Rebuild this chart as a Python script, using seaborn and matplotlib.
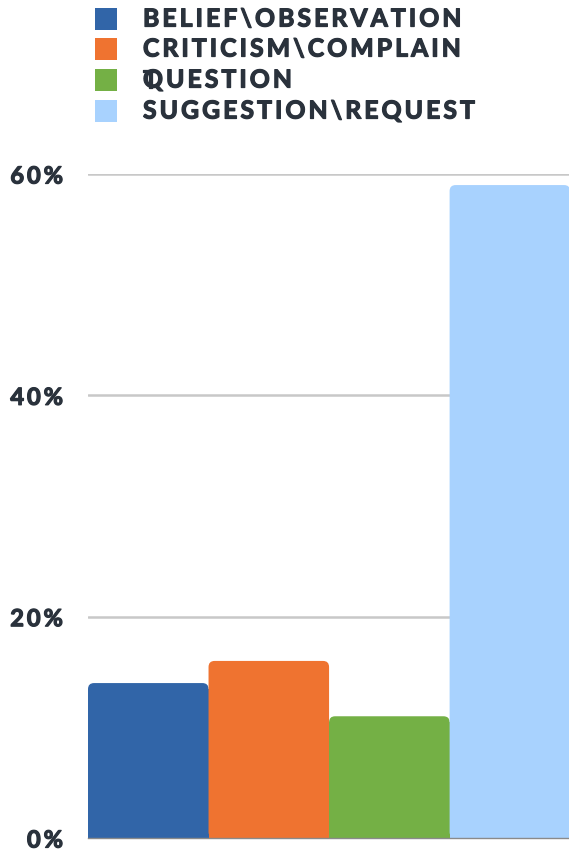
import matplotlib
matplotlib.use("Agg")
import matplotlib.pyplot as plt
import matplotlib.patheffects as pe
import seaborn as sns
import pandas as pd
from matplotlib.patches import FancyBboxPatch, Rectangle
import textwrap

# datos
categorias = ["BELIEF\\OBSERVATION", "CRITICISM\\COMPLAINT", "QUESTION", "SUGGESTION\\REQUEST"]
porcentajes = [14, 16, 11, 59]
colores = ["#3165a8", "#ef7330", "#74b045", "#a8d2fe"]
ticks_y = [0, 20, 40, 60]

sns.set_style("white")
plt.rcParams['font.family'] = ['Lato', 'DejaVu Sans']
TXT = "#2a323c"
grueso = [pe.withStroke(linewidth=0.9, foreground=TXT)]

def espaciar(s):
    # imitar el espaciado ancho entre letras
    return "\u2009".join(s)

df = pd.DataFrame({"cat": categorias, "pct": porcentajes})

fig = plt.figure(figsize=(5.69, 8.52), dpi=100)
ax = fig.add_axes([88/569, 1-838/852, 1-88/569+0.002, (838-174)/852])

sns.barplot(data=df, x="cat", y="pct", hue="cat", palette=colores, width=1,
            legend=False, ax=ax, saturation=1, zorder=3)

# esquinas superiores redondeadas
r = 0.05
aspecto = 11
for p, c in zip(list(ax.patches), colores):
    x, w, h = p.get_x(), p.get_width(), p.get_height()
    p.set_height(h - r*aspecto)
    p.set_edgecolor("none")
    ax.add_patch(FancyBboxPatch((x, 0), w, h, boxstyle=f"round,pad=0,rounding_size={r}",
                                mutation_aspect=aspecto, fc=c, ec="none", zorder=3))

ax.set_xlim(-0.5, 3.5)
ax.set_ylim(0, 60)
ax.set_yticks(ticks_y)
ax.set_yticklabels([espaciar(f"{t}%") for t in ticks_y], fontsize=17, fontweight="bold", color=TXT)
for t in ax.get_yticklabels():
    t.set_path_effects(grueso)
ax.tick_params(axis="y", length=0, pad=18)
ax.set_xticks([])
ax.set_xlabel("")
ax.set_ylabel("")

ax.grid(axis="y", color="#c8c8c8", linewidth=1.8, zorder=0)
for s in ["top", "right", "left"]:
    ax.spines[s].set_visible(False)
ax.spines["bottom"].set_color("#8a8a8a")
ax.spines["bottom"].set_linewidth(1)
ax.spines["bottom"].set_zorder(4)

# leyenda manual (la etiqueta larga se corta en dos líneas)
filas = [19, 49, 80, 111]
paso = 31
for i, (cat, c) in enumerate(zip(categorias, colores)):
    yc = filas[i]
    fig.patches.append(Rectangle((95/569, 1-(yc+11)/852), 22/569, 22/852,
                                 transform=fig.transFigure, fc=c, ec="none"))
    for j, linea in enumerate(textwrap.wrap(cat, 18)):
        fig.text(143/569, 1-(yc+j*paso)/852, espaciar(linea), fontsize=17.8, fontweight="bold",
                 color=TXT, va="center", ha="left", path_effects=grueso)

fig.savefig("out.png", dpi=100)
